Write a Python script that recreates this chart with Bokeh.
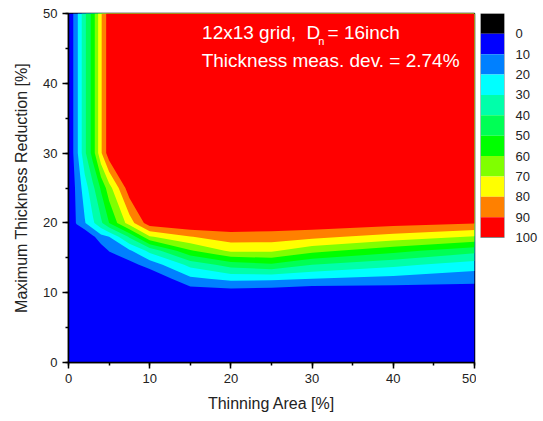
import numpy as np
from bokeh.plotting import figure
from bokeh.layouts import row
from bokeh.models import Range1d, SingleIntervalTicker, FixedTicker, Label, LinearAxis
from bokeh.embed import file_html
from bokeh.resources import INLINE

# grid of the field (thinning area [%] x max thickness reduction [%])
thinning_area = [0, 1, 2, 3, 4, 5, 7.5, 10, 15, 20, 25, 30, 40, 50]
thickness_reduction = [0, 10, 12, 14, 16, 18, 20, 25, 30, 50]

# values (%) read row by row, one list per thickness reduction
z_y0  = [0, 0, 0, 0, 0, 0, 0, 0, 0, 0, 0, 0, 0, 0]
z_y10 = [0, 0, 0, 0, 0, 0, 0, 0, 3.6, 4.5, 3.6, 1, 1.9, 2.8]
z_y12 = [0, 0, 0, 0, 0, 0, 0, 0.6, 17.9, 22.5, 22, 20, 17, 13.9]
z_y14 = [0, 0, 0, 0, 0, 1, 6.5, 14, 32.9, 44.3, 48.3, 40, 32.5, 25]
z_y16 = [0, 0, 0, 0, 3.8, 10.5, 18.2, 32.9, 58.8, 72, 71.5, 63.2, 53.3, 43.3]
z_y18 = [0, 0, 0, 8, 16.3, 20, 41.4, 68.9, 79.6, 85.3, 85.3, 82.6, 75.9, 69.2]
z_y20 = [0, 11, 19.2, 28.2, 38, 50, 75, 96, 100, 98.7, 97, 97, 94, 91]
z_y25 = [0, 12.5, 25, 37.5, 51.4, 65.7, 96, 100, 100, 100, 100, 100, 100, 100]
z_y30 = [0, 17, 37.7, 54.3, 78.5, 96.5, 100, 100, 100, 100, 100, 100, 100, 100]
z_y50 = [0, 17, 37.7, 54.3, 78.5, 96.5, 100, 100, 100, 100, 100, 100, 100, 100]

levels = [0, 10, 20, 30, 40, 50, 60, 70, 80, 90, 100]
level_colors = ["#0000FF", "#0080FF", "#00FFFF", "#00FFAA", "#00FF55",
                "#00FF00", "#80FF00", "#FFFF00", "#FF8000", "#FF0000"]
legend_bounds = [-10, 0, 10, 20, 30, 40, 50, 60, 70, 80, 90, 100]
legend_colors = ["#000000"] + level_colors

Z = np.array([z_y0, z_y10, z_y12, z_y14, z_y16, z_y18, z_y20, z_y25, z_y30, z_y50], dtype=float)
X = np.array(thinning_area, dtype=float)
Y = np.array(thickness_reduction, dtype=float)

FONT = "Liberation Sans"
H = 417
BT = 13
FRAME_H = 349
BB = H - BT - FRAME_H

p = figure(width=476, height=H, x_range=Range1d(0, 50), y_range=Range1d(0, 50),
           output_backend="svg", toolbar_location=None,
           min_border_left=68, min_border_right=2, min_border_top=BT, min_border_bottom=BB)
p.background_fill_color = "#0000FF"
p.border_fill_color = "white"
p.grid.visible = False
p.outline_line_color = "black"
p.outline_line_width = 1.5

# stacked filled regions z >= level
lower = [-1] + levels[1:-1]
for lv, col in zip(lower, level_colors):
    p.contour(X, Y, Z, [lv, 1000], fill_color=col)

for ax in (p.xaxis[0], p.yaxis[0]):
    ax.ticker = SingleIntervalTicker(interval=10, num_minor_ticks=2)
    ax.axis_line_width = 1.5
    ax.axis_line_color = "black"
    ax.major_tick_line_color = "black"
    ax.major_tick_line_width = 1.5
    ax.minor_tick_line_color = "black"
    ax.minor_tick_line_width = 1.5
    ax.major_tick_out = 6
    ax.major_tick_in = 0
    ax.minor_tick_out = 3
    ax.minor_tick_in = 0
    ax.major_label_text_font = FONT
    ax.major_label_text_font_size = "13px"
    ax.major_label_text_color = "#222222"
    ax.axis_label_text_font = FONT
    ax.axis_label_text_font_size = "16px"
    ax.axis_label_text_font_style = "normal"
    ax.axis_label_text_color = "#222222"
p.xaxis.axis_label = "Thinning Area [%]"
p.yaxis.axis_label = "Maximum Thickness Reduction [%]"
p.xaxis.axis_label_standoff = 9
p.yaxis.axis_label_standoff = 10

txt = dict(text_color="white", text_font=FONT, text_font_size="19px", text_baseline="middle")
p.add_layout(Label(x=16.45, y=47.3, text="12x13 grid,", **txt))
p.add_layout(Label(x=29.3, y=47.3, text="D", **txt))
p.add_layout(Label(x=30.75, y=46.0, text="n", text_color="white", text_font=FONT,
                   text_font_size="11px", text_baseline="middle"))
p.add_layout(Label(x=31.9, y=47.3, text="= 16inch", **txt))
p.add_layout(Label(x=16.4, y=43.3, text="Thickness meas. dev. = 2.74%", **txt))

# legend as a separate strip (frame aligned with the main plot)
px_per_unit = 224.0 / 110.0
leg = figure(width=64, height=H, x_range=Range1d(0, 1),
             y_range=Range1d(-10 + FRAME_H / px_per_unit, -10),
             output_backend="svg", toolbar_location=None,
             x_axis_location=None, y_axis_location=None,
             min_border_left=4, min_border_right=30, min_border_top=BT, min_border_bottom=BB)
leg.grid.visible = False
leg.outline_line_color = None
leg.background_fill_color = "white"
leg.quad(left=0, right=1, top=legend_bounds[:-1], bottom=legend_bounds[1:],
         fill_color=legend_colors, line_color=None)
leg.quad(left=0, right=1, top=legend_bounds[0], bottom=legend_bounds[-1],
         fill_color=None, line_color="#888888", line_width=1)
lax = LinearAxis(ticker=FixedTicker(ticks=levels))
lax.axis_line_color = None
lax.major_tick_line_color = None
lax.minor_tick_line_color = None
lax.major_label_standoff = 5
lax.major_label_text_font = FONT
lax.major_label_text_font_size = "13px"
lax.major_label_text_color = "#222222"
leg.add_layout(lax, "right")

layout = row(p, leg)
open("out.html", "w").write(file_html(layout, INLINE))
